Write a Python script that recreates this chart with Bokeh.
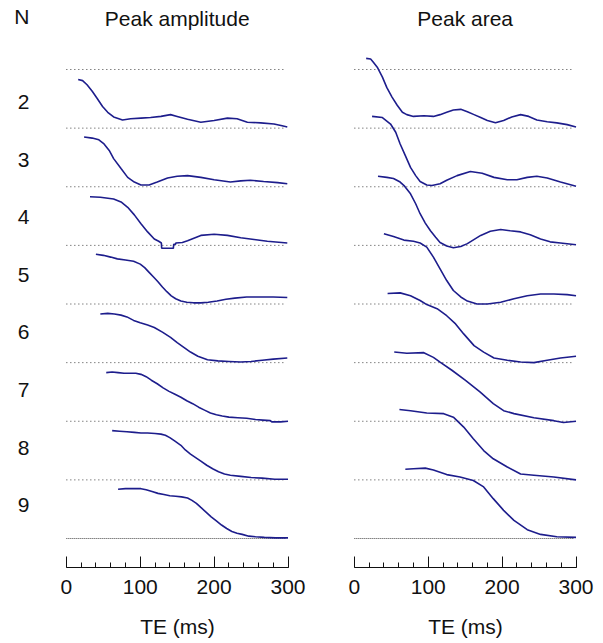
from bokeh.plotting import figure
from bokeh.layouts import row
from bokeh.models import Range1d, FixedTicker
from bokeh.embed import file_html
from bokeh.resources import INLINE
from bokeh.core.properties import value

# ---------------- data ----------------
N_VALUES = [2, 3, 4, 5, 6, 7, 8, 9]
PANEL_TITLES = ["Peak amplitude", "Peak area"]
X_LABEL = "TE (ms)"
X_TICKS = [0, 100, 200, 300]
X_MINOR = [0, 20, 40, 60, 80, 100, 120, 140, 160, 180, 200, 220, 240, 260, 280, 300]

# Peak amplitude (left panel), TE in ms, values relative to each row's baseline
amp_te_2 = [16, 22, 28, 35, 42, 49, 56, 64, 76, 87, 101, 114, 128, 141, 150, 164, 182, 200, 218, 231, 245, 263, 281, 292, 299]
amp_v_2 = [0.83, 0.81, 0.74, 0.63, 0.50, 0.37, 0.27, 0.19, 0.14, 0.16, 0.17, 0.18, 0.20, 0.23, 0.20, 0.15, 0.10, 0.13, 0.17, 0.16, 0.10, 0.09, 0.07, 0.04, 0.02]
amp_te_3 = [24, 35, 44, 51, 58, 64, 74, 83, 92, 101, 112, 123, 137, 150, 164, 182, 200, 222, 236, 249, 267, 286, 299]
amp_v_3 = [0.85, 0.83, 0.80, 0.73, 0.62, 0.48, 0.31, 0.16, 0.08, 0.03, 0.03, 0.08, 0.15, 0.18, 0.19, 0.16, 0.12, 0.08, 0.10, 0.11, 0.09, 0.07, 0.05]
amp_te_4 = [32, 46, 64, 74, 83, 92, 101, 110, 119, 125, 128.6, 129, 144.8, 145.3, 147.8, 148.2, 157, 164, 182, 200, 218, 236, 254, 272, 299]
amp_v_4 = [0.83, 0.82, 0.79, 0.74, 0.65, 0.52, 0.37, 0.23, 0.11, 0.07, 0.04, -0.05, -0.05, 0.02, 0.02, 0.04, 0.05, 0.08, 0.17, 0.19, 0.17, 0.13, 0.10, 0.07, 0.04]
amp_te_5 = [40, 50, 60, 69, 80, 91, 100, 106, 112, 118, 124, 130, 136, 142, 148, 155, 163, 172, 182, 192, 204, 216, 228, 244, 264, 280, 299]
amp_v_5 = [0.85, 0.83, 0.80, 0.77, 0.75, 0.73, 0.68, 0.62, 0.54, 0.46, 0.38, 0.29, 0.21, 0.14, 0.09, 0.05, 0.03, 0.02, 0.02, 0.03, 0.05, 0.08, 0.10, 0.12, 0.12, 0.12, 0.11]
amp_te_6 = [46, 56, 65, 74, 82, 91, 100, 110, 119, 130, 141, 150, 159, 168, 178, 191, 205, 220, 236, 250, 265, 280, 299]
amp_v_6 = [0.83, 0.84, 0.83, 0.81, 0.78, 0.72, 0.68, 0.64, 0.60, 0.52, 0.43, 0.34, 0.26, 0.18, 0.11, 0.05, 0.03, 0.02, 0.01, 0.02, 0.04, 0.06, 0.08]
amp_te_7 = [54, 62, 70, 78, 87, 94, 101, 108, 115, 123, 131, 139, 147, 155, 163, 171, 179, 187, 195, 203, 211, 220, 232, 244, 256, 266, 276, 278, 290, 300]
amp_v_7 = [0.83, 0.84, 0.83, 0.82, 0.82, 0.82, 0.80, 0.76, 0.70, 0.64, 0.57, 0.51, 0.46, 0.41, 0.35, 0.30, 0.24, 0.19, 0.14, 0.11, 0.09, 0.07, 0.06, 0.05, 0.03, 0.02, 0.01, -0.01, -0.01, 0.00]
amp_te_8 = [62, 72, 82, 92, 101, 110, 120, 128, 134, 140, 147, 155, 161, 168, 175, 182, 190, 198, 206, 214, 222, 236, 250, 265, 282, 300]
amp_v_8 = [0.84, 0.83, 0.82, 0.81, 0.80, 0.80, 0.79, 0.78, 0.76, 0.72, 0.66, 0.59, 0.51, 0.44, 0.38, 0.32, 0.25, 0.19, 0.14, 0.10, 0.08, 0.06, 0.04, 0.03, 0.01, 0.01]
amp_te_9 = [70, 80, 90, 101, 108, 116, 124, 132, 140, 148, 156, 164, 170, 176, 182, 189, 196, 203, 210, 217, 224, 231, 238, 247, 256, 268, 283, 300]
amp_v_9 = [0.84, 0.85, 0.85, 0.85, 0.83, 0.80, 0.77, 0.75, 0.73, 0.72, 0.71, 0.69, 0.65, 0.60, 0.53, 0.45, 0.37, 0.30, 0.23, 0.17, 0.12, 0.09, 0.07, 0.04, 0.03, 0.02, 0.01, 0.01]

# Peak area (right panel)
area_te_2 = [16, 22, 26, 31, 38, 44, 51, 58, 65, 71, 80, 94, 107, 116, 125, 134, 144, 153, 162, 171, 180, 191, 202, 213, 225, 236, 247, 261, 274, 288, 300]
area_v_2 = [1.19, 1.18, 1.12, 1.04, 0.87, 0.69, 0.53, 0.39, 0.27, 0.23, 0.20, 0.21, 0.20, 0.23, 0.27, 0.31, 0.32, 0.28, 0.23, 0.18, 0.13, 0.09, 0.13, 0.19, 0.23, 0.20, 0.14, 0.11, 0.09, 0.06, 0.02]
area_te_3 = [24, 38, 49, 56, 62, 69, 76, 83, 89, 98, 105, 116, 125, 139, 157, 173, 189, 207, 220, 234, 247, 261, 279, 300]
area_v_3 = [1.20, 1.18, 1.07, 0.93, 0.73, 0.53, 0.33, 0.19, 0.09, 0.03, 0.02, 0.05, 0.11, 0.19, 0.26, 0.23, 0.16, 0.12, 0.12, 0.16, 0.18, 0.15, 0.08, 0.01]
area_te_4 = [32, 44, 53, 62, 68, 76, 83, 89, 96, 103, 110, 116, 125, 134, 144, 153, 171, 184, 198, 211, 225, 238, 252, 265, 279, 300]
area_v_4 = [1.18, 1.16, 1.14, 1.08, 1.01, 0.88, 0.71, 0.54, 0.38, 0.25, 0.14, 0.05, -0.01, -0.04, -0.02, 0.03, 0.17, 0.24, 0.27, 0.25, 0.23, 0.18, 0.11, 0.06, 0.04, 0.01]
area_te_5 = [40, 53, 67, 80, 89, 98, 107, 116, 125, 134, 144, 153, 166, 180, 198, 216, 234, 252, 270, 288, 300]
area_v_5 = [1.20, 1.15, 1.09, 1.07, 1.04, 0.97, 0.80, 0.60, 0.40, 0.23, 0.12, 0.05, 0.00, 0.00, 0.03, 0.09, 0.14, 0.17, 0.17, 0.16, 0.14]
area_te_6 = [45, 62, 76, 89, 98, 112, 125, 137, 148, 162, 175, 189, 207, 225, 243, 261, 279, 300]
area_v_6 = [1.18, 1.19, 1.14, 1.06, 0.99, 0.92, 0.80, 0.66, 0.49, 0.29, 0.18, 0.08, 0.04, 0.01, 0.00, 0.04, 0.08, 0.11]
area_te_7 = [54, 71, 94, 107, 116, 132, 150, 170, 188, 202, 216, 243, 270, 283, 300]
area_v_7 = [1.18, 1.16, 1.17, 1.09, 1.01, 0.87, 0.70, 0.50, 0.30, 0.18, 0.13, 0.06, 0.01, -0.02, 0.00]
area_te_8 = [61, 76, 98, 121, 134, 148, 161, 175, 188, 207, 225, 243, 270, 300]
area_v_8 = [1.20, 1.18, 1.14, 1.13, 1.07, 0.90, 0.70, 0.50, 0.36, 0.22, 0.10, 0.08, 0.05, 0.00]
area_te_9 = [69, 80, 96, 107, 125, 143, 161, 175, 188, 202, 216, 234, 252, 274, 300]
area_v_9 = [1.18, 1.19, 1.20, 1.17, 1.09, 1.05, 0.99, 0.88, 0.68, 0.48, 0.31, 0.15, 0.07, 0.03, 0.02]

amp_curves = [(amp_te_2, amp_v_2), (amp_te_3, amp_v_3), (amp_te_4, amp_v_4), (amp_te_5, amp_v_5),
              (amp_te_6, amp_v_6), (amp_te_7, amp_v_7), (amp_te_8, amp_v_8), (amp_te_9, amp_v_9)]
area_curves = [(area_te_2, area_v_2), (area_te_3, area_v_3), (area_te_4, area_v_4), (area_te_5, area_v_5),
               (area_te_6, area_v_6), (area_te_7, area_v_7), (area_te_8, area_v_8), (area_te_9, area_v_9)]

# ---------------- styling ----------------
FONT = "Liberation Sans"
FS = "21px"
LINE_COLOR = "#1d1d8c"
TEXT_COLOR = "#111111"
PX_PER_ROW = 58.625
TOP_PX = 69.0          # distance from frame top to first dotted line
FRAME_H = 567
FRAME_W = 226

y_top = TOP_PX / PX_PER_ROW
y_bot = -(FRAME_H - TOP_PX) / PX_PER_ROW
yr = Range1d(y_bot, y_top)


def make_panel(title, curves, left):
    kw = dict(frame_width=FRAME_W, frame_height=FRAME_H,
              x_range=Range1d(-2.5, 303.35), y_range=yr,
              output_backend="svg", toolbar_location=None,
              min_border_top=0, min_border_bottom=0,
              background_fill_color="white", border_fill_color="white",
              outline_line_color=None)
    if left:
        p = figure(min_border_left=64, min_border_right=18, y_axis_location="left", **kw)
    else:
        p = figure(min_border_left=44, min_border_right=20, y_axis_location=None, **kw)
    p.grid.visible = False

    # dotted baselines
    nrows = len(N_VALUES) + 1
    for k in range(nrows):
        dash = "1 1" if k == nrows - 1 else "1 3"
        p.line([0, 297], [-k, -k], line_color="#444444", line_width=1, line_dash=dash)

    # curves
    for i, (te, v) in enumerate(curves):
        base = -(i + 1)
        p.line(te, [base + val for val in v], line_color=LINE_COLOR, line_width=1.6)

    # panel title
    p.text(x=[150], y=[51 / PX_PER_ROW], text=[title],
           text_font=value(FONT), text_font_size=FS, text_align="center",
           text_baseline="alphabetic", text_color=TEXT_COLOR)

    # x axis
    ax = p.xaxis[0]
    ax.ticker = FixedTicker(ticks=X_TICKS, minor_ticks=X_MINOR)
    ax.bounds = (0, 300)
    ax.major_tick_in = 11
    ax.major_tick_out = 0
    ax.minor_tick_in = 5
    ax.minor_tick_out = 0
    ax.axis_line_color = "#111111"
    ax.major_tick_line_color = "#111111"
    ax.minor_tick_line_color = "#111111"
    ax.major_label_standoff = 12
    ax.major_label_text_font = FONT
    ax.major_label_text_font_size = FS
    ax.major_label_text_color = TEXT_COLOR
    ax.axis_label = X_LABEL
    ax.axis_label_standoff = 18
    ax.axis_label_text_font = FONT
    ax.axis_label_text_font_size = FS
    ax.axis_label_text_font_style = "normal"
    ax.axis_label_text_color = TEXT_COLOR

    if left:
        ya = p.yaxis[0]
        n_pos = 53 / PX_PER_ROW
        ticks = [n_pos]
        overrides = {n_pos: "N"}
        for i, n in enumerate(N_VALUES):
            pos = -(32.2 + i * 57.57) / PX_PER_ROW
            ticks.append(pos)
            overrides[pos] = str(n)
        ya.ticker = FixedTicker(ticks=ticks)
        ya.major_label_overrides = overrides
        ya.axis_line_color = None
        ya.major_tick_line_color = None
        ya.minor_tick_line_color = None
        ya.major_tick_in = 0
        ya.major_tick_out = 0
        ya.minor_tick_in = 0
        ya.minor_tick_out = 0
        ya.major_label_standoff = 35
        ya.major_label_text_font = FONT
        ya.major_label_text_font_size = FS
        ya.major_label_text_color = TEXT_COLOR
    return p


p1 = make_panel(PANEL_TITLES[0], amp_curves, True)
p2 = make_panel(PANEL_TITLES[1], area_curves, False)
layout = row(p1, p2)

open("out.html", "w").write(file_html(layout, INLINE))
